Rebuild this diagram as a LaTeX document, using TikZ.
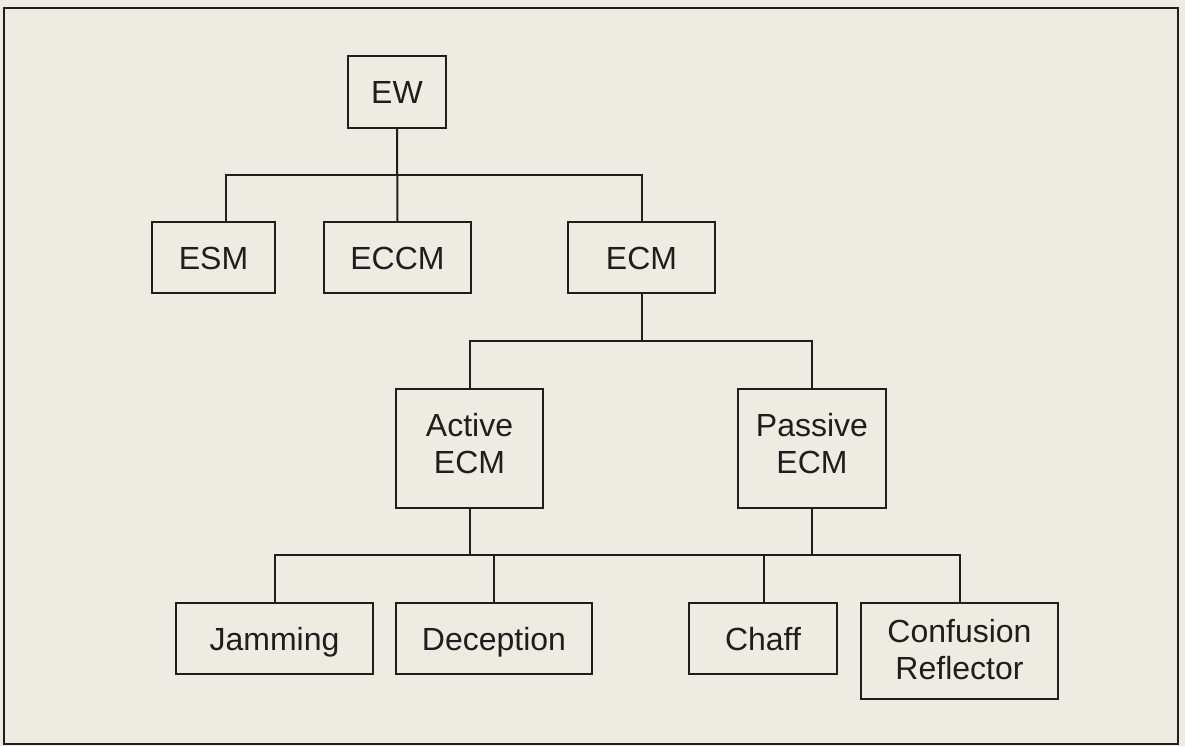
\documentclass[tikz,border=0pt]{standalone}
\usepackage{fontspec}
\setmainfont{Liberation Sans}
\definecolor{paper}{RGB}{238,236,226}
\definecolor{ink}{RGB}{30,30,30}
\begin{document}
\begin{tikzpicture}[x=0.5pt,y=-0.5pt,
  box/.style={draw=ink,line width=1pt,inner sep=0pt,align=center,text=ink,
    font=\fontsize{16}{18.5}\selectfont,text height=11.5pt,text depth=0pt},
  twoline/.style={text height=24.5pt,text depth=0pt},
  twolinec/.style={text height=28pt,text depth=0pt},
  link/.style={draw=ink,line width=1pt}]
\fill[paper] (0,0) rectangle (1185,746);
\useasboundingbox (0,0) rectangle (1185,746);
\draw[ink,line width=1.3pt] (4,8) rectangle (1178,744);
% level 0
\node[box,minimum width=49pt,minimum height=36pt] (ew) at (397,92) {EW};
% level 1
\node[box,minimum width=61.5pt,minimum height=35.5pt] (esm) at (213.5,257.5) {ESM};
\node[box,minimum width=73.5pt,minimum height=35.5pt] (eccm) at (397.5,257.5) {ECCM};
\node[box,minimum width=73.5pt,minimum height=35.5pt] (ecm) at (641.5,257.5) {ECM};
% level 2
\node[box,twoline,minimum width=73.5pt,minimum height=59.5pt] (active) at (469.5,448.5) {Active\\ECM};
\node[box,twoline,minimum width=74pt,minimum height=59.5pt] (passive) at (812,448.5) {Passive\\ECM};
% level 3
\node[box,minimum width=98.5pt,minimum height=35.5pt] (jam) at (274.5,638.5) {Jamming};
\node[box,minimum width=98pt,minimum height=35.5pt] (dec) at (494,638.5) {Deception};
\node[box,minimum width=74pt,minimum height=35.5pt] (chaff) at (763,638.5) {Chaff};
\node[box,twolinec,minimum width=98.5pt,minimum height=48pt] (conf) at (959.5,651) {Confusion\\Reflector};
% bus coordinates
\coordinate (bus1) at (0,175);
\coordinate (bus2) at (0,341);
\coordinate (bus3) at (0,555);
% connectors level 0 -> 1
\draw[link] (ew.south) -- (eccm.north);
\draw[link] ([xshift=6.25pt]esm.north) |- (ecm.north |- bus1) -- (ecm.north);
% level 1 -> 2
\draw[link] (ecm.south) -- (ecm.south |- bus2);
\draw[link] (active.north) |- (passive.north |- bus2) -- (passive.north);
% level 2 -> 3
\draw[link] (active.south) -- (active.south |- bus3);
\draw[link] (passive.south) -- (passive.south |- bus3);
\draw[link] (jam.north) |- (conf.north |- bus3) -- (conf.north);
\draw[link] (dec.north) -- (dec.north |- bus3);
\draw[link] ([xshift=0.5pt]chaff.north) -- ([xshift=0.5pt]chaff.north |- bus3);
\end{tikzpicture}
\end{document}
